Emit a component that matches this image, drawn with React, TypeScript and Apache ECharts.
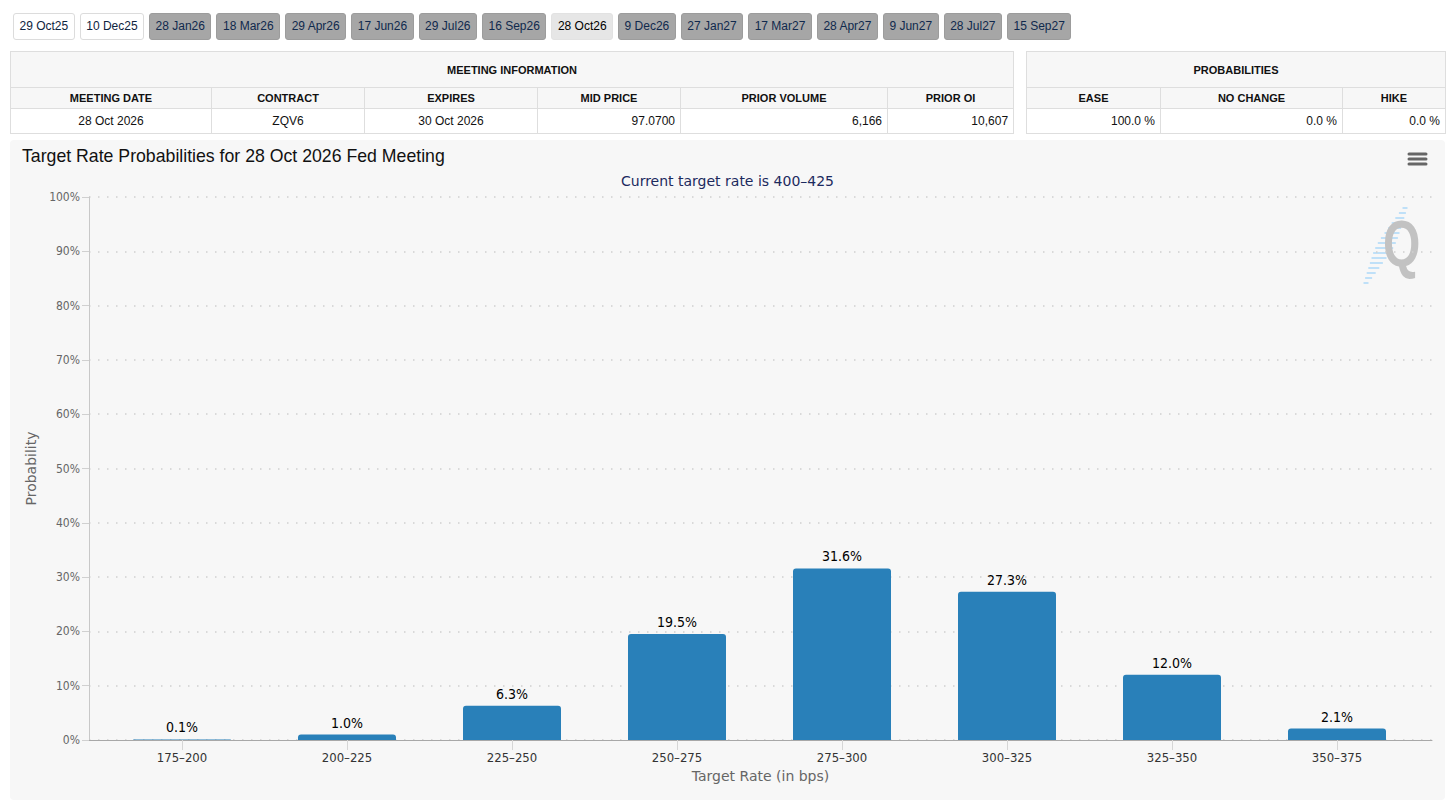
import React, { useEffect, useRef } from "react";
import * as echarts from "echarts";

// ---------- data ----------
const meetingTabs = [
  "29 Oct25", "10 Dec25", "28 Jan26", "18 Mar26", "29 Apr26", "17 Jun26", "29 Jul26", "16 Sep26",
  "28 Oct26", "9 Dec26", "27 Jan27", "17 Mar27", "28 Apr27", "9 Jun27", "28 Jul27", "15 Sep27",
];
const pastTabs = ["29 Oct25", "10 Dec25"];
const selectedTab = "28 Oct26";

const meetingInfoHeaders = ["MEETING DATE", "CONTRACT", "EXPIRES", "MID PRICE", "PRIOR VOLUME", "PRIOR OI"];
const meetingInfoValues = ["28 Oct 2026", "ZQV6", "30 Oct 2026", "97.0700", "6,166", "10,607"];
const meetingInfoAlign = ["center", "center", "center", "right", "right", "right"];
const meetingInfoWidths = [201, 153, 173, 143, 207, 126];

const probHeaders = ["EASE", "NO CHANGE", "HIKE"];
const probValues = ["100.0 %", "0.0 %", "0.0 %"];
const probWidths = [134, 182, 103];

const categories = ["175–200", "200–225", "225–250", "250–275", "275–300", "300–325", "325–350", "350–375"];
const probabilities = [0.1, 1.0, 6.3, 19.5, 31.6, 27.3, 12.0, 2.1];

const chartTitle = "Target Rate Probabilities for 28 Oct 2026 Fed Meeting";
const chartSubtitle = "Current target rate is 400–425";

const ARIAL = "'Liberation Sans', Arial, Helvetica, sans-serif";
const COND = "'DejaVu Sans Condensed', 'DejaVu Sans', sans-serif";
const DEJAVU = "'DejaVu Sans', sans-serif";

function Tabs() {
  return (
    <div style={{ position: "absolute", left: 13, top: 13, display: "flex", gap: 5 }}>
      {meetingTabs.map((t) => {
        const past = pastTabs.includes(t);
        const sel = t === selectedTab;
        return (
          <div
            key={t}
            style={{
              height: 27,
              lineHeight: "25px",
              padding: "0 5.5px",
              boxSizing: "border-box",
              border: past ? "1px solid #dcdcdc" : sel ? "1px solid #e2e2e2" : "1px solid #9c9c9c",
              borderRadius: 3,
              background: past ? "#ffffff" : sel ? "#e6e6e6" : "#a6a6a6",
              color: past ? "#0e2440" : sel ? "#000000" : "#10294d",
              fontFamily: ARIAL,
              fontSize: 12,
              whiteSpace: "nowrap",
            }}
          >
            {t}
          </div>
        );
      })}
    </div>
  );
}

const cellBase: React.CSSProperties = {
  border: "1px solid #dedede",
  fontFamily: ARIAL,
  color: "#111",
  padding: "0 5px",
  boxSizing: "border-box",
  whiteSpace: "nowrap",
};

function InfoTable(props: {
  left: number;
  title: string;
  headers: string[];
  values: string[];
  widths: number[];
  align: string[];
}) {
  const total = props.widths.reduce((a, b) => a + b, 0);
  return (
    <table
      style={{
        position: "absolute",
        left: props.left,
        top: 51,
        width: total,
        borderCollapse: "collapse",
        tableLayout: "fixed",
      }}
    >
      <colgroup>
        {props.widths.map((w, i) => (
          <col key={i} style={{ width: w }} />
        ))}
      </colgroup>
      <tbody>
        <tr style={{ height: 36 }}>
          <td
            colSpan={props.headers.length}
            style={{ ...cellBase, background: "#f7f7f7", textAlign: "center", fontWeight: "bold", fontSize: 11 }}
          >
            {props.title}
          </td>
        </tr>
        <tr style={{ height: 21 }}>
          {props.headers.map((h) => (
            <td
              key={h}
              style={{ ...cellBase, background: "#f7f7f7", textAlign: "center", fontWeight: "bold", fontSize: 11 }}
            >
              {h}
            </td>
          ))}
        </tr>
        <tr style={{ height: 25 }}>
          {props.values.map((v, i) => (
            <td
              key={i}
              style={{ ...cellBase, background: "#ffffff", textAlign: props.align[i] as any, fontSize: 12 }}
            >
              {v}
            </td>
          ))}
        </tr>
      </tbody>
    </table>
  );
}

function Chart() {
  const ref = useRef<HTMLDivElement>(null);
  useEffect(() => {
    if (!ref.current) return;
    const chart = echarts.init(ref.current, undefined, { renderer: "svg" });

    const dashes: any[] = [];
    const dashLens = [5, 7, 9, 11, 13, 15, 17, 18, 18, 17, 15, 13, 11, 9, 7, 5];
    dashLens.forEach((len, i) => {
      const y = 68 + i * 5;
      const cx = 1395 - i * 2.6;
      dashes.push({
        type: "line",
        shape: { x1: cx - len / 2, y1: y, x2: cx + len / 2, y2: y },
        style: { stroke: "#bfe0f8", lineWidth: 2 },
        silent: true,
      });
    });

    const option: any = {
      animation: false,
      backgroundColor: "transparent",
      title: [
        {
          text: chartTitle,
          left: 12,
          top: 7,
          padding: 0,
          textStyle: { fontFamily: ARIAL, fontSize: 17.7, fontWeight: "normal", color: "#111" },
        },
        {
          text: chartSubtitle,
          left: "center",
          top: 34,
          padding: 0,
          textStyle: { fontFamily: DEJAVU, fontSize: 14, fontWeight: "normal", color: "#1c2a5e" },
        },
      ],
      grid: [
        { left: 79, right: 13, top: 57, bottom: 60 },
        { left: 89.5, right: 25.5, top: 57, bottom: 60 },
      ],
      xAxis: [
        {
          gridIndex: 0,
          type: "category",
          data: categories,
          axisLine: { show: true, lineStyle: { color: "#a8a8a8", width: 1 } },
          axisTick: { show: false },
          axisLabel: { show: false },
          splitLine: { show: false },
          name: "Target Rate (in bps)",
          nameLocation: "middle",
          nameGap: 29,
          nameTextStyle: { fontFamily: DEJAVU, fontSize: 14, color: "#666" },
        },
        {
          gridIndex: 1,
          type: "category",
          data: categories,
          axisLine: { show: false },
          axisTick: { show: true, alignWithLabel: true, length: 10, lineStyle: { color: "#d6d6d6" } },
          axisLabel: { color: "#333", fontFamily: COND, fontSize: 13, margin: 11 },
          splitLine: { show: false },
        },
      ],
      yAxis: [
        {
          gridIndex: 0,
          type: "value",
          min: 0,
          max: 100,
          interval: 10,
          axisLine: { show: true, lineStyle: { color: "#c8c8c8" } },
          axisTick: { show: true, length: 7, lineStyle: { color: "#d0d0d0" } },
          axisLabel: { formatter: "{value}%", color: "#666", fontFamily: COND, fontSize: 12, margin: 9 },
          splitLine: { show: true, lineStyle: { color: "#cfcfcf", width: 1.5, type: [1.5, 7.5] } },
          name: "Probability",
          nameLocation: "middle",
          nameGap: 50,
          nameTextStyle: { fontFamily: DEJAVU, fontSize: 14, color: "#666" },
        },
        {
          gridIndex: 1,
          type: "value",
          min: 0,
          max: 100,
          interval: 10,
          show: false,
        },
      ],
      series: [
        {
          type: "bar",
          xAxisIndex: 1,
          yAxisIndex: 1,
          data: probabilities,
          barWidth: 98,
          itemStyle: {
            color: "#2980b9",
            borderRadius: [3, 3, 0, 0],
          },
          label: {
            show: true,
            position: "top",
            distance: 5,
            formatter: (p: any) => Number(p.value).toFixed(1) + "%",
            color: "#000",
            fontFamily: COND,
            fontSize: 14,
          },
        },
      ],
      graphic: [
        ...dashes,
        {
          type: "text",
          left: 1373,
          top: 72,
          silent: true,
          style: { text: "Q", fill: "#c2c2c2", font: "bold 64px 'Liberation Sans', Arial" },
          scaleX: 0.75,
        },
        ...[14, 19, 24].map((y) => ({
          type: "line",
          shape: { x1: 1399, y1: y, x2: 1416, y2: y },
          style: { stroke: "#666", lineWidth: 3, lineCap: "round" },
          silent: true,
        })),
      ],
    };
    chart.setOption(option);
    return () => chart.dispose();
  }, []);
  return (
    <div
      style={{
        position: "absolute",
        left: 10,
        top: 140,
        width: 1435,
        height: 660,
        background: "#f7f7f7",
        borderRadius: 4,
      }}
    >
      <div ref={ref} style={{ width: 1435, height: 660 }} />
    </div>
  );
}

export default function App() {
  return (
    <div style={{ position: "absolute", left: 0, top: 0, width: 1456, height: 808, background: "#fff", overflow: "hidden" }}>
      <Tabs />
      <InfoTable
        left={10}
        title="MEETING INFORMATION"
        headers={meetingInfoHeaders}
        values={meetingInfoValues}
        widths={meetingInfoWidths}
        align={meetingInfoAlign}
      />
      <InfoTable
        left={1026}
        title="PROBABILITIES"
        headers={probHeaders}
        values={probValues}
        widths={probWidths}
        align={["right", "right", "right"]}
      />
      <Chart />
    </div>
  );
}
